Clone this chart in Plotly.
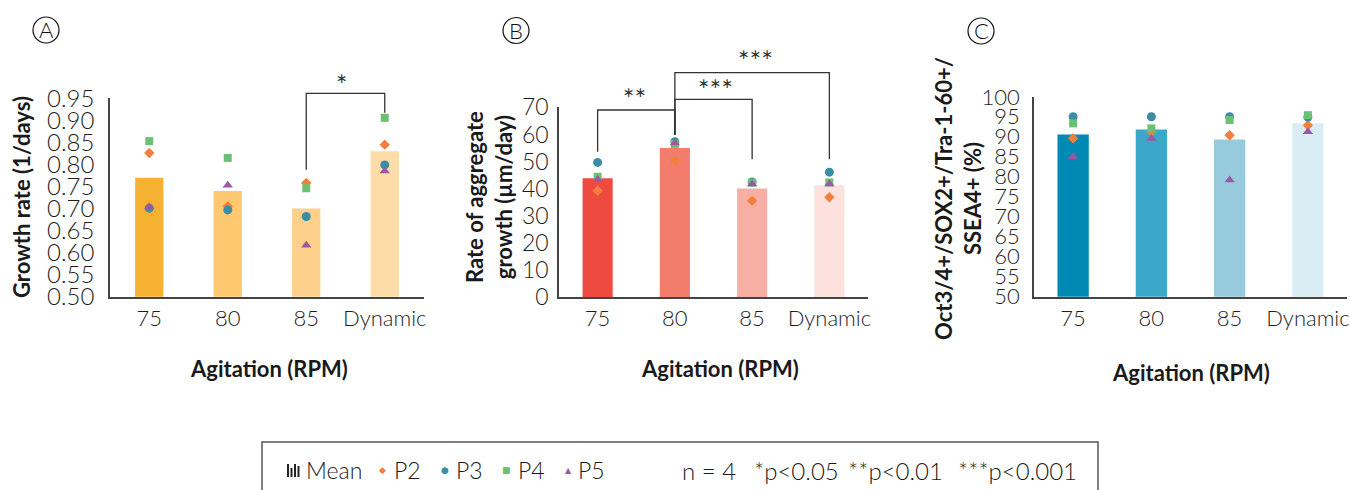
import plotly.graph_objects as go

W, H = 1350, 490

categories = ["75", "80", "85", "Dynamic"]

# Panel A: growth rate (1/days)
growth_mean = [0.77, 0.74, 0.70, 0.83]
growth_P2 = [0.826, 0.705, 0.758, 0.845]
growth_P3 = [0.701, 0.697, 0.682, 0.799]
growth_P4 = [0.853, 0.815, 0.746, 0.906]
growth_P5 = [0.704, 0.753, 0.617, 0.785]

# Panel B: rate of aggregate growth (um/day)
agg_mean = [43.8, 55.0, 40.1, 41.3]
agg_P2 = [39.2, 50.4, 35.5, 36.8]
agg_P3 = [49.7, 57.3, 42.5, 46.1]
agg_P4 = [44.4, 56.5, 42.2, 42.3]
agg_P5 = [43.4, 56.9, 41.7, 41.7]

# Panel C: Oct3/4+/SOX2+/Tra-1-60+/SSEA4+ (%)
pluri_mean = [90.6, 91.85, 89.35, 93.4]
pluri_P2 = [89.6, 91.25, 90.4, 92.9]
pluri_P3 = [95.0, 95.0, 95.0, 94.9]
pluri_P4 = [93.35, 92.1, 94.2, 95.4]
pluri_P5 = [85.0, 89.6, 79.2, 91.25]

y_ticks_A = [0.50, 0.55, 0.60, 0.65, 0.70, 0.75, 0.80, 0.85, 0.90, 0.95]
y_ticks_B = [0, 10, 20, 30, 40, 50, 60, 70]
y_ticks_C = [50, 55, 60, 65, 70, 75, 80, 85, 90, 95, 100]

# significance brackets: (left cat, right cat, left foot, top, right foot, label, label x, label y)
sig_A = [(2, 3, 0.788, 0.961, 0.917, "∗", 2.45, 0.997)]
sig_B = [
    (0, 1, 53.6, 69.0, 59.8, "∗∗", 0.48, 75.5),
    (1, 2, 59.8, 72.9, 50.8, "∗∗∗", 1.53, 79.1),
    (1, 3, 59.8, 82.8, 50.8, "∗∗∗", 2.04, 89.6),
]

# styles
bar_colors_A = ["#F6B133", "#FDC86F", "#FDD18B", "#FEDCA7"]
bar_colors_B = ["#EE4A40", "#F37D6C", "#F8AFA3", "#FDE1DC"]
bar_colors_C = ["#008AB3", "#3BA7C9", "#98CADD", "#DAEDF5"]
pt_style = {
    "P2": ("diamond", "#F37F3E", 8),
    "P3": ("circle", "#3D8DA6", 9),
    "P4": ("square", "#6CC073", 8),
    "P5": ("triangle-up", "#9A5A9F", 9),
}

def pxx(x):
    return x / W

def pxy(y):
    return 1 - y / H

panels = {
    "A": dict(xa="x", ya="y", xdom=[pxx(110), pxx(424)], ydom=[pxy(296.7), pxy(98.3)],
              rng=[0.5, 0.95], ticks=y_ticks_A, fmt=".2f", colors=bar_colors_A,
              mean=growth_mean, pts={"P2": growth_P2, "P3": growth_P3, "P4": growth_P4, "P5": growth_P5},
              width=0.36, standoff=9, yfs=24),
    "B": dict(xa="x2", ya="y2", xdom=[pxx(559), pxx(868)], ydom=[pxy(297), pxy(107.3)],
              rng=[0, 70], ticks=y_ticks_B, fmt="d", colors=bar_colors_B,
              mean=agg_mean, pts={"P2": agg_P2, "P3": agg_P3, "P4": agg_P4, "P5": agg_P5},
              width=0.39, standoff=4, yfs=23),
    "C": dict(xa="x3", ya="y3", xdom=[pxx(1034), pxx(1347)], ydom=[pxy(296.7), pxy(96.7)],
              rng=[50, 100], ticks=y_ticks_C, fmt="d", colors=bar_colors_C,
              mean=pluri_mean, pts={"P2": pluri_P2, "P3": pluri_P3, "P4": pluri_P4, "P5": pluri_P5},
              width=0.40, standoff=8, yfs=22),
}

fig = go.Figure()
FONT = "Lato Light, Lato"
xtickfont = dict(family=FONT, size=22, color="#1e1e1e")
axis_col = "#444444"

layout_axes = {}
for key, p in panels.items():
    fig.add_trace(go.Bar(x=categories, y=p["mean"], marker=dict(color=p["colors"], line=dict(width=0)),
                         width=p["width"], xaxis=p["xa"], yaxis=p["ya"], showlegend=False, hoverinfo="y"))
    for name, vals in p["pts"].items():
        sym, col, sz = pt_style[name]
        fig.add_trace(go.Scatter(x=categories, y=vals, mode="markers", name=name,
                                 marker=dict(symbol=sym, color=col, size=sz, line=dict(width=0)),
                                 xaxis=p["xa"], yaxis=p["ya"], showlegend=False, cliponaxis=False))
    xname = "xaxis" if p["xa"] == "x" else "xaxis" + p["xa"][1:]
    yname = "yaxis" if p["ya"] == "y" else "yaxis" + p["ya"][1:]
    span = p["rng"][1] - p["rng"][0]
    layout_axes[xname] = dict(domain=p["xdom"], anchor=p["ya"], type="category",
                              categoryorder="array", categoryarray=categories,
                              range=[-0.5, 3.5], showline=True, linecolor=axis_col, linewidth=1.5,
                              ticks="", showgrid=False, zeroline=False, tickfont=xtickfont,
                              ticklabelstandoff=1, fixedrange=True, automargin=False)
    layout_axes[yname] = dict(domain=p["ydom"], anchor=p["xa"], range=[p["rng"][0], p["rng"][1] + span * 0.0005],
                              tickvals=p["ticks"], tickformat=p["fmt"], showline=True, linecolor=axis_col,
                              linewidth=1.5, ticks="", showgrid=False, zeroline=False,
                              tickfont=dict(family=FONT, size=p["yfs"], color="#1e1e1e"),
                              ticklabelstandoff=p["standoff"], fixedrange=True, automargin=False)

fig.update_layout(**layout_axes)

def to_paper(p, xc, yv):
    xd, yd, r = p["xdom"], p["ydom"], p["rng"]
    return (xd[0] + (xc + 0.5) / 4 * (xd[1] - xd[0]),
            yd[0] + (yv - r[0]) / (r[1] - r[0]) * (yd[1] - yd[0]))

shapes = []
annotations = []
line_style = dict(color="#333333", width=1.3)
for key, sigs in (("A", sig_A), ("B", sig_B)):
    p = panels[key]
    for (xl, xr, yl, yt, yr, lab, lx, ly) in sigs:
        x0, y0 = to_paper(p, xl, yl)
        _, y1 = to_paper(p, xl, yt)
        x2, y2 = to_paper(p, xr, yr)
        path = f"M {x0} {y0} L {x0} {y1} L {x2} {y1} L {x2} {y2}"
        shapes.append(dict(type="path", path=path, xref="paper", yref="paper", line=line_style))
        ax_, ay_ = to_paper(p, lx, ly)
        annotations.append(dict(x=ax_, y=ay_, xref="paper", yref="paper", text=lab, showarrow=False,
                                font=dict(family="DejaVu Sans", size=14, color="#333333"),
                                xanchor="center", yanchor="middle"))

# panel letters (circled)
for letter, cx, cy in (("A", 46, 30), ("B", 516, 30.5), ("C", 981, 31)):
    r = 13
    shapes.append(dict(type="circle", xref="paper", yref="paper",
                       x0=pxx(cx - r), x1=pxx(cx + r), y0=pxy(cy + r), y1=pxy(cy - r),
                       line=dict(color="#111111", width=1.2)))
    annotations.append(dict(x=pxx(cx), y=pxy(cy), xref="paper", yref="paper", text=letter,
                            showarrow=False, font=dict(family=FONT, size=22, color="#111111"),
                            xanchor="center", yanchor="middle"))

# axis titles
title_font = dict(family="Lato", size=22, color="#1a1a1a")
annotations += [
    dict(x=pxx(22), y=pxy(197), text="<b>Growth rate (1/days)</b>", textangle=-90),
    dict(x=pxx(489), y=pxy(197), text="<b>Rate of aggregate<br>growth (µm/day)</b>", textangle=-90),
    dict(x=pxx(958), y=pxy(199), text="<b>Oct3/4+/SOX2+/Tra-1-60+/<br>SSEA4+ (%)</b>", textangle=-90),
    dict(x=pxx(269), y=pxy(368), text="<b>Agitation (RPM)</b>"),
    dict(x=pxx(720), y=pxy(368), text="<b>Agitation (RPM)</b>"),
    dict(x=pxx(1191), y=pxy(372), text="<b>Agitation (RPM)</b>"),
]
for a in annotations[-6:]:
    a.update(xref="paper", yref="paper", showarrow=False, font=title_font,
             xanchor="center", yanchor="middle")

# legend box
shapes.append(dict(type="rect", xref="paper", yref="paper", x0=pxx(262), x1=pxx(1098),
                   y0=pxy(505), y1=pxy(442), line=dict(color="#555555", width=1.5)))
# mean icon: small bars
for bx, top in ((287, 464), (290.5, 468), (294, 464), (297.5, 466)):
    shapes.append(dict(type="rect", xref="paper", yref="paper", x0=pxx(bx), x1=pxx(bx + 2),
                       y0=pxy(477), y1=pxy(top), fillcolor="#222222", line=dict(width=0)))
leg_y = pxy(470)
leg_font = dict(family=FONT, size=23, color="#1a1a1a")
glyphs = [("◆", "#F37F3E", 382, 9), ("●", "#3D8DA6", 445, 9), ("■", "#6CC073", 507, 9), ("▲", "#9A5A9F", 568, 8)]
for g, col, gx, gs in glyphs:
    annotations.append(dict(x=pxx(gx), y=leg_y, xref="paper", yref="paper", text=g, showarrow=False,
                            font=dict(family="DejaVu Sans", size=gs, color=col),
                            xanchor="center", yanchor="middle"))
for txt, tx in (("Mean", 304), ("P2", 392), ("P3", 454), ("P4", 516), ("P5", 576)):
    annotations.append(dict(x=pxx(tx), y=leg_y, xref="paper", yref="paper", text=txt, showarrow=False,
                            font=leg_font, xanchor="left", yanchor="middle"))
for txt, tx in (("n = 4", 709), ("*p<0.05", 797), ("**p<0.01", 895), ("***p<0.001", 1017)):
    annotations.append(dict(x=pxx(tx), y=leg_y, xref="paper", yref="paper", text=txt, showarrow=False,
                            font=dict(family=FONT, size=24, color="#1a1a1a"),
                            xanchor="center", yanchor="middle"))

fig.update_layout(width=W, height=H, margin=dict(l=0, r=0, t=0, b=0, pad=0, autoexpand=False),
                  autosize=False, paper_bgcolor="white", plot_bgcolor="white", showlegend=False,
                  bargap=0.5, shapes=shapes, annotations=annotations)

fig.write_html("out.html")
